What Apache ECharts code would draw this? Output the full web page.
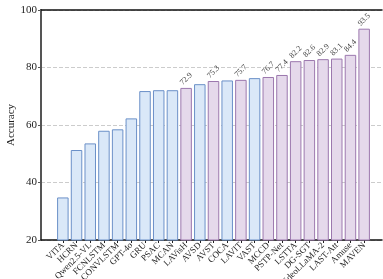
<!DOCTYPE html>
<html><head><meta charset="utf-8">
<script src="https://cdn.jsdelivr.net/npm/echarts@6/dist/echarts.min.js"></script>
<style>html,body{margin:0;padding:0;background:#fff}#c{width:383px;height:279px}</style>
</head><body><div id="c"></div>
<script>
const categories = ['VITA','HCRN','Qwen2.5-VL','FCNLSTM','CONVLSTM','GPT-4o','GRU','PSAC','MCAN','LAVisH','AVSD','AVST','COCA','LAVIT','VAST','MCCD','PSTP-Net','LSTTA','DG-SGT','VideoLLaMA-2','LAST-Att','Amuse','MAVEN'];
const values = [34.8,51.3,53.6,58.0,58.5,62.3,71.8,72.1,72.1,72.9,74.2,75.3,75.5,75.7,76.3,76.7,77.4,82.2,82.6,82.9,83.1,84.4,93.5];
const groups = ['A','A','A','A','A','A','A','A','A','B','A','B','A','B','A','B','B','B','B','B','B','B','B'];
const yTicks = {min: 20, max: 100, interval: 20};

const styles = {
  A: {color: '#dae8f8', borderColor: '#6b90c8', borderWidth: 1},
  B: {color: '#e5d9eb', borderColor: '#9c78ae', borderWidth: 1}
};
const serif = 'Liberation Serif';
const data = values.map((v, i) => ({
  value: v,
  itemStyle: styles[groups[i]],
  label: {show: groups[i] === 'B'}
}));

const chart = echarts.init(document.getElementById('c'));
chart.setOption({
  animation: false,
  grid: [
    {left: 41, right: 1, top: 10, bottom: 39, containLabel: false, outerBoundsMode: 'none'},
    {left: 56, right: 12, top: 10, bottom: 39, containLabel: false, outerBoundsMode: 'none'}
  ],
  xAxis: [
    {type: 'value', gridIndex: 0, min: 0, max: 1, axisLine: {show: true, onZero: false, lineStyle: {color: '#111', width: 1.5}}, axisTick: {show: false}, axisLabel: {show: false}, splitLine: {show: false}},
    {type: 'value', gridIndex: 0, position: 'top', min: 0, max: 1, axisLine: {show: true, onZero: false, lineStyle: {color: '#111', width: 1.5}}, axisTick: {show: false}, axisLabel: {show: false}, splitLine: {show: false}},
    {type: 'category', gridIndex: 1, position: 'bottom', data: categories,
      axisLine: {show: false, onZero: false},
      axisTick: {show: true, alignWithLabel: true, length: 3, lineStyle: {color: '#222'}},
      axisLabel: {rotate: 45, interval: 0, fontFamily: serif, fontSize: 9, color: '#222', margin: 4}}
  ],
  yAxis: [
    {type: 'value', gridIndex: 0, min: yTicks.min, max: yTicks.max, interval: yTicks.interval,
      name: 'Accuracy', nameLocation: 'middle', nameGap: 24, nameMoveOverlap: false,
      nameTextStyle: {fontFamily: serif, fontSize: 11, color: '#222'},
      axisLine: {show: true, lineStyle: {color: '#555', width: 2}},
      axisTick: {show: true, length: 3, lineStyle: {color: '#555'}},
      axisLabel: {fontFamily: serif, fontSize: 11, color: '#222', margin: 4},
      splitLine: {show: true, lineStyle: {type: 'dashed', color: '#cccccc', width: 1}}},
    {type: 'value', gridIndex: 1, min: yTicks.min, max: yTicks.max, show: false}
  ],
  series: [{
    type: 'bar', xAxisIndex: 2, yAxisIndex: 1, data: data,
    barCategoryGap: '16%',
    label: {position: 'top', rotate: 45, align: 'center', verticalAlign: 'middle', distance: 9,
      fontFamily: serif, fontSize: 8, color: '#444'}
  }]
});
</script></body></html>
